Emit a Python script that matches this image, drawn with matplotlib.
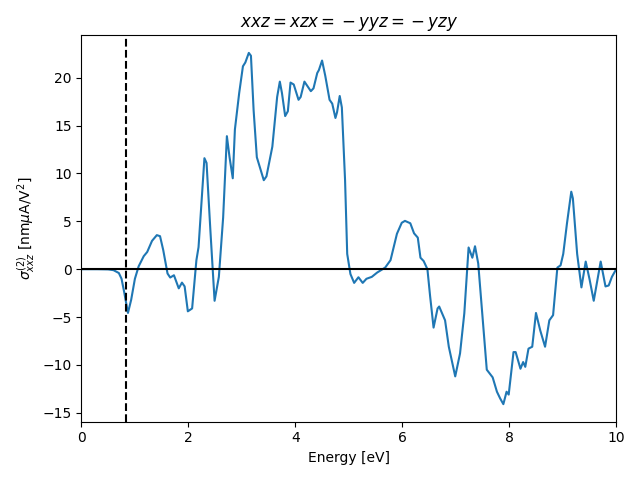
import numpy as np
import matplotlib.pyplot as plt

# values (energy in eV, sigma in nm uA/V^2)
energy = [0.0, 0.3, 0.5, 0.6, 0.7, 0.75, 0.8, 0.87, 0.93, 1.0, 1.07, 1.165, 1.23, 1.32, 1.41,
          1.47, 1.53, 1.61, 1.66, 1.73, 1.82, 1.88, 1.93, 1.99, 2.07, 2.15, 2.19, 2.30, 2.34,
          2.41, 2.49, 2.57, 2.65, 2.72, 2.77, 2.83, 2.87, 2.95, 3.02, 3.065, 3.13, 3.17, 3.22,
          3.28, 3.41, 3.46, 3.57, 3.66, 3.71, 3.75, 3.81, 3.86, 3.91, 3.97, 4.06, 4.10, 4.17,
          4.23, 4.29, 4.34, 4.41, 4.44, 4.50, 4.56, 4.64, 4.69, 4.75, 4.78, 4.83, 4.87, 4.93,
          4.97, 5.03, 5.10, 5.18, 5.26, 5.33, 5.43, 5.53, 5.68, 5.78, 5.90, 5.99, 6.05, 6.15,
          6.22, 6.29, 6.34, 6.40, 6.47, 6.52, 6.585, 6.66, 6.69, 6.80, 6.87, 6.99, 7.08, 7.16,
          7.24, 7.31, 7.36, 7.42, 7.51, 7.58, 7.69, 7.77, 7.83, 7.89, 7.95, 7.99, 8.08, 8.12,
          8.21, 8.26, 8.30, 8.36, 8.43, 8.50, 8.58, 8.67, 8.75, 8.82, 8.90, 8.96, 9.01, 9.08,
          9.16, 9.19, 9.27, 9.35, 9.43, 9.50, 9.58, 9.64, 9.71, 9.80, 9.86, 9.92, 10.0]
sigma = [0.0, 0.0, -0.02, -0.1, -0.4, -1.0, -2.4, -4.57, -3.2, -1.0, 0.3, 1.36, 1.8, 2.96, 3.56,
         3.45, 1.99, -0.45, -0.87, -0.63, -2.0, -1.4, -1.8, -4.4, -4.1, 0.94, 2.3, 11.6, 11.1,
         4.2, -3.3, -0.8, 5.4, 13.9, 11.7, 9.5, 14.6, 18.4, 21.2, 21.6, 22.6, 22.3, 16.6,
         11.7, 9.3, 9.7, 12.8, 18.0, 19.6, 18.4, 16.0, 16.5, 19.5, 19.3, 17.7, 18.0, 19.6,
         19.1, 18.6, 18.9, 20.5, 20.8, 21.8, 20.2, 17.7, 17.3, 15.8, 16.4, 18.1, 16.9, 9.3,
         1.6, -0.5, -1.43, -0.84, -1.43, -1.0, -0.8, -0.35, 0.17, 0.94, 3.7, 4.85, 5.05, 4.8,
         3.75, 3.3, 1.2, 0.85, 0.0, -2.8, -6.1, -4.1, -3.9, -5.34, -8.1, -11.2, -8.8, -4.6,
         2.27, 1.2, 2.4, 0.6, -5.7, -10.5, -11.3, -12.8, -13.5, -14.1, -12.8, -13.1, -8.66, -8.66,
         -10.4, -9.7, -10.2, -8.3, -8.1, -4.57, -6.4, -8.1, -5.34, -4.8, 0.17, 0.4, 1.6, 4.8,
         8.1, 7.4, 1.6, -1.9, 0.8, -1.0, -3.3, -1.4, 0.8, -1.8, -1.7, -0.8, 0.0]
gap = 0.835

plt.figure(figsize=(6.4, 4.8), dpi=100)
plt.plot(energy, sigma)
plt.axhline(0, color='k')
plt.axvline(gap, color='k', linestyle='--')
plt.xlim(0, 10)
plt.xlabel('Energy [eV]')
plt.ylabel(r'$\sigma^{(2)}_{xxz}$ [nm$\mu$A/V$^2$]')
plt.title(r'$xxz=xzx={}-yyz={}-yzy$')
plt.tight_layout()
plt.savefig('out.png')
plt.close()
